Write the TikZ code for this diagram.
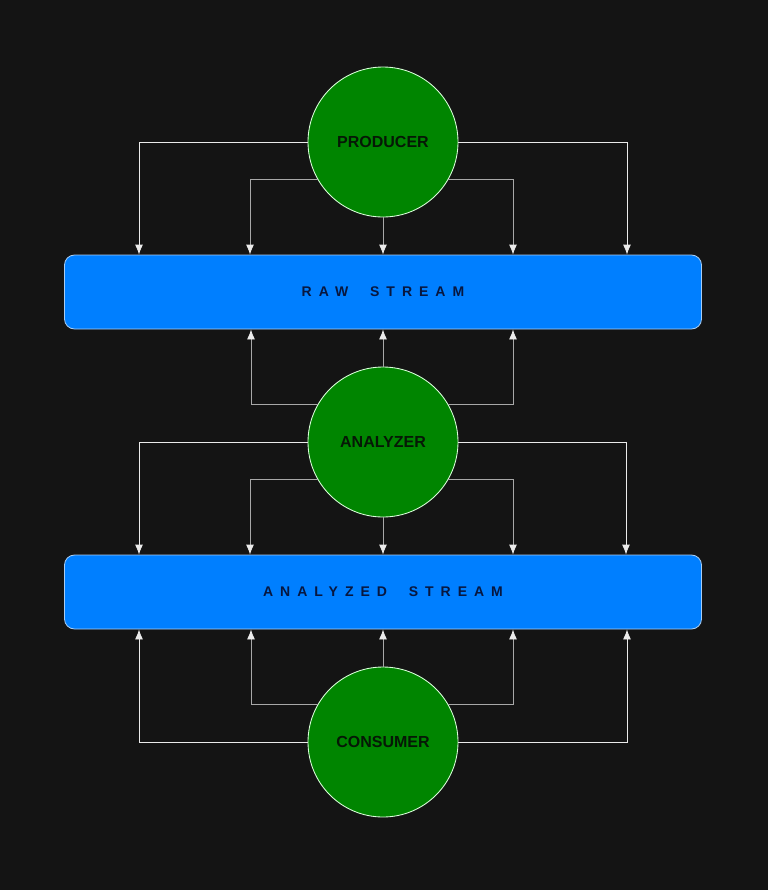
\documentclass[tikz,border=0pt]{standalone}
\usepackage{fontspec}
\setmainfont{Liberation Sans}
\newfontfamily\spaced[LetterSpace=50]{Liberation Sans}
\usepackage{tikz}
\usetikzlibrary{arrows.meta}
\usetikzlibrary{positioning}
\usetikzlibrary{calc}
\definecolor{backdrop}{HTML}{141414}
\definecolor{procgreen}{HTML}{008500}
\definecolor{procink}{HTML}{061806}
\definecolor{streamblue}{HTML}{007FFF}
\definecolor{streamedge}{HTML}{A8CCF2}
\definecolor{streamink}{HTML}{08173F}
\definecolor{wiregray}{HTML}{A8A8A8}
\tikzstyle{proc}=[circle, draw=white!85!green, fill=procgreen, minimum size=112.5pt, inner sep=0pt, text=procink, font=\fontsize{12}{14}\selectfont\bfseries]
\tikzstyle{stream}=[rectangle, rounded corners=7.5pt, draw=streamedge, fill=streamblue, minimum width=477.75pt, minimum height=55.5pt, text=streamink, font=\spaced\fontsize{10.5}{12}\selectfont\bfseries]
\tikzstyle{outerwire}=[-{Latex[length=7.5pt,width=6pt]}, white!92!black]
\tikzstyle{innerwire}=[-{Latex[length=7.5pt,width=6pt,color=white!92!black]}, wiregray]
\tikzset{every picture/.style={
    line width=0.65pt
  }
}

\begin{document}
\begin{tikzpicture}[x=0.75pt, y=-0.75pt]
        \fill[backdrop] (0,0) rectangle (768,890);
        \useasboundingbox (0,0) rectangle (768,890);
        \node[proc] at (383,142) (producer) {PRODUCER};
        \node[stream] at (383,292) (raw) {RAW\ \ STREAM};
        \node[proc] at (383,442) (analyzer) {ANALYZER};
        \node[stream] at (383,592) (analyzed) {ANALYZED\ \ STREAM};
        \node[proc] at (383,742) (consumer) {CONSUMER};
        % producer -> raw stream
        \draw[outerwire] (producer.west) -| ($(raw.north)+(-244,0)$);
        \draw[outerwire] (producer.east) -| ($(raw.north)+(244,0)$);
        \draw[innerwire] (producer.210) -| ($(raw.north)+(-133,0)$);
        \draw[innerwire] (producer.-30) -| ($(raw.north)+(130,0)$);
        \draw[innerwire] (producer.south) -- (raw.north);
        % analyzer -> raw stream
        \draw[innerwire] (analyzer.150) -| ($(raw.south)+(-132,0)$);
        \draw[innerwire] (analyzer.30) -| ($(raw.south)+(130,0)$);
        \draw[innerwire] (analyzer.north) -- (raw.south);
        % analyzer -> analyzed stream
        \draw[outerwire] (analyzer.west) -| ($(analyzed.north)+(-244,0)$);
        \draw[outerwire] (analyzer.east) -| ($(analyzed.north)+(243,0)$);
        \draw[innerwire] (analyzer.210) -| ($(analyzed.north)+(-133,0)$);
        \draw[innerwire] (analyzer.-30) -| ($(analyzed.north)+(130,0)$);
        \draw[innerwire] (analyzer.south) -- (analyzed.north);
        % consumer -> analyzed stream
        \draw[outerwire] (consumer.west) -| ($(analyzed.south)+(-244,0)$);
        \draw[outerwire] (consumer.east) -| ($(analyzed.south)+(244,0)$);
        \draw[innerwire] (consumer.150) -| ($(analyzed.south)+(-132,0)$);
        \draw[innerwire] (consumer.30) -| ($(analyzed.south)+(130,0)$);
        \draw[innerwire] (consumer.north) -- (analyzed.south);
      \end{tikzpicture}
\end{document}
